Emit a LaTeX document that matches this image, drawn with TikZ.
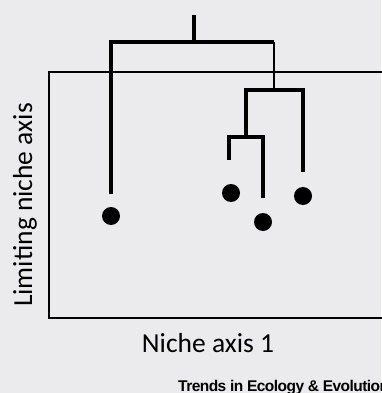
\documentclass[tikz,border=0pt]{standalone}
\usepackage{fontspec}
\setmainfont{Carlito}
\newfontfamily\creditfont[LetterSpace=-3.5]{Liberation Sans}
\begin{document}
\begin{tikzpicture}[x=1pt,y=-1pt,
  branch/.style={line width=4pt},
  thinbranch/.style={line width=2.6pt},
  frame/.style={line width=2pt},
  tip/.style={circle,fill=black,inner sep=0pt,minimum size=18pt},
  axislabel/.style={font=\fontsize{27.5}{32}\selectfont,inner sep=0pt}]
\fill[fill={rgb,255:red,235;green,235;blue,237}] (0,0) rectangle (381,393);
\useasboundingbox (0,0) rectangle (381,393);
% axes box, open on the right
\draw[frame] (390,72) -| (49,318) -- (390,318);
% tree junction points
\coordinate (root) at (194,15);
\coordinate (r0) at (194,42);
\coordinate (aL) at (111,42);
\coordinate (aR) at (274,42);
\coordinate (b0) at (274,90);
\coordinate (bL) at (246,90);
\coordinate (bR) at (303,90);
\coordinate (c0) at (246,137);
\coordinate (cL) at (229,137);
\coordinate (cR) at (263,137);
\coordinate (eA) at (111,194);
\coordinate (eB) at (229,160);
\coordinate (eC) at (263,198);
\coordinate (eD) at (303,172);
% species points
\node[tip] (sA) at (111,216) {};
\node[tip] (sB) at (231,193) {};
\node[tip] (sC) at (263,222) {};
\node[tip] (sD) at (303,196) {};
% branches
\draw[branch] (root) -- (r0);
\draw[branch] (eA) -- (aL) -- (aR);
\draw[thinbranch] (aR) -- (b0);
\draw[branch] (c0) -- (bL) -- (bR) -- (eD);
\draw[branch] (eB) -- (cL) -- (cR) -- (eC);
% labels
\node[axislabel] (xl) at (208,343) {Niche axis 1};
\node[axislabel,rotate=90] (yl) at (25,205) {Limiting niche axis};
\node[anchor=base west,inner sep=0pt,font=\creditfont\bfseries\fontsize{15.5}{17}\selectfont] (credit) at (178,391) {Trends in Ecology \& Evolution};
\end{tikzpicture}
\end{document}
